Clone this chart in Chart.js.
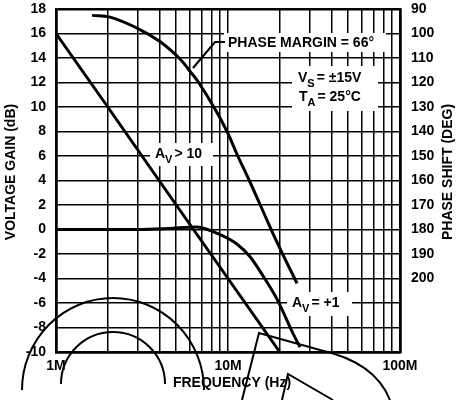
<!DOCTYPE html>
<html>
<head>
<meta charset="utf-8">
<script src="https://cdn.jsdelivr.net/npm/chart.js@4/dist/chart.umd.min.js"></script>
<style>
  body { margin: 0; background: #fff; }
  canvas { display: block; }
</style>
</head>
<body>
<canvas id="chart" width="458" height="400"></canvas>
<script>
// frequencies in MHz
const freqTicks = [1, 2, 3, 4, 5, 6, 7, 8, 9, 10, 20, 30, 40, 50, 60, 70, 80, 90, 100];

// A_V > 10 gain (dB)
const highGainFreq = [1, 2, 5, 10, 20];
const highGainDb = [16, 10, 2, -4, -10];

// A_V = +1 gain (dB)
const unityFreq = [1, 3, 4.5, 6.5, 8.6, 11.3, 13.4, 16, 19.3, 23.9, 26.2];
const unityDb = [0, 0, 0.08, 0.2, -0.3, -1.2, -2.2, -3.8, -5.7, -8.5, -9.6];

// phase shift (deg), right axis
const phaseFreq = [1.62, 2.06, 2.96, 4.02, 5.26, 6.01, 6.69, 8.4, 9.87, 11.4, 13.3, 15.4, 19.5, 25.2];
const phaseDeg = [92.6, 93.3, 97.8, 103.3, 110.4, 115.4, 119.6, 130.8, 140, 150, 160, 170, 186, 202];

const FONT = '"Liberation Sans", Arial, sans-serif';

function toPoints(xs, ys) {
  return xs.map((x, i) => ({ x: x, y: ys[i] }));
}

function subText(ctx, x, y, main, sub, rest) {
  ctx.font = 'bold 14px ' + FONT;
  ctx.fillText(main, x, y);
  x += ctx.measureText(main).width;
  ctx.font = 'bold 11px ' + FONT;
  ctx.fillText(sub, x, y + 5);
  x += ctx.measureText(sub).width;
  ctx.font = 'bold 14px ' + FONT;
  ctx.fillText(rest, x + 2, y);
}

// pin the plot frame: fixed width, no extra room for the end tick labels
function fitSide(width) {
  return scale => {
    scale.width = width;
    scale.paddingTop = 0;
    scale.paddingBottom = 0;
  };
}

const labelsPlugin = {
  id: 'labels',
  beforeDatasetsDraw(chart) {
    const ctx = chart.ctx;
    ctx.save();
    ctx.fillStyle = '#fff';
    ctx.fillRect(224, 33, 162, 19);
    ctx.fillRect(292, 66, 86, 45);
    ctx.fillRect(150, 143, 63, 23);
    ctx.fillRect(287, 292, 65, 24);

    ctx.fillStyle = '#000';
    ctx.textBaseline = 'alphabetic';
    ctx.textAlign = 'left';
    ctx.font = 'bold 14px ' + FONT;
    ctx.fillText('PHASE MARGIN = 66°', 228, 47);
    subText(ctx, 298, 82, 'V', 'S', '= ±15V');
    subText(ctx, 299, 101, 'T', 'A', '= 25°C');
    subText(ctx, 155, 158, 'A', 'V', '> 10');
    subText(ctx, 292, 307, 'A', 'V', '= +1');

    // leader to the phase curve
    ctx.strokeStyle = '#000';
    ctx.lineWidth = 2;
    ctx.beginPath();
    ctx.moveTo(225, 42);
    ctx.lineTo(215, 42);
    ctx.lineTo(193, 68);
    ctx.stroke();
    ctx.restore();
  },
  afterDraw(chart) {
    const ctx = chart.ctx;
    ctx.save();
    ctx.fillStyle = '#000';
    ctx.font = 'bold 14px ' + FONT;
    ctx.textAlign = 'center';
    ctx.textBaseline = 'middle';
    ctx.fillText('FREQUENCY (Hz)', 232, 383);

    ctx.save();
    ctx.translate(11, 172);
    ctx.rotate(-Math.PI / 2);
    ctx.fillText('VOLTAGE GAIN (dB)', 0, 0);
    ctx.restore();

    ctx.save();
    ctx.translate(448, 172);
    ctx.rotate(-Math.PI / 2);
    ctx.fillText('PHASE SHIFT (DEG)', 0, 0);
    ctx.restore();

    // pen strokes over the bottom of the sheet
    ctx.strokeStyle = '#000';
    ctx.lineWidth = 2;
    ctx.beginPath();
    ctx.ellipse(113, 390, 91, 92, 0, Math.PI, 2 * Math.PI);
    ctx.stroke();
    ctx.beginPath();
    ctx.arc(113, 384, 52, Math.PI, 2 * Math.PI);
    ctx.stroke();
    ctx.beginPath();
    ctx.moveTo(242, 400);
    ctx.lineTo(259, 333);
    ctx.lineTo(320, 350);
    ctx.quadraticCurveTo(375, 362, 390, 400);
    ctx.stroke();
    ctx.beginPath();
    ctx.moveTo(282, 400);
    ctx.lineTo(288, 374);
    ctx.lineTo(326, 396);
    ctx.lineTo(333, 400);
    ctx.stroke();
    ctx.restore();
  }
};

const lineStyle = {
  borderColor: '#000',
  borderWidth: 3,
  pointRadius: 0,
  fill: false,
  borderCapStyle: 'butt'
};

new Chart(document.getElementById('chart'), {
  type: 'line',
  data: {
    datasets: [
      Object.assign({ label: 'A_V > 10', data: toPoints(highGainFreq, highGainDb), yAxisID: 'y', tension: 0 }, lineStyle),
      Object.assign({ label: 'A_V = +1', data: toPoints(unityFreq, unityDb), yAxisID: 'y', cubicInterpolationMode: 'monotone' }, lineStyle),
      Object.assign({ label: 'Phase', data: toPoints(phaseFreq, phaseDeg), yAxisID: 'y1', tension: 0.4 }, lineStyle)
    ]
  },
  options: {
    responsive: false,
    animation: false,
    layout: { padding: { top: 9, left: 0, right: 0, bottom: 0 } },
    plugins: {
      legend: { display: false },
      tooltip: { enabled: false }
    },
    scales: {
      x: {
        type: 'logarithmic',
        min: 1,
        max: 100,
        afterBuildTicks: scale => { scale.ticks = freqTicks.map(v => ({ value: v })); },
        afterFit: scale => { scale.height = 48; },
        ticks: {
          autoSkip: false,
          maxRotation: 0,
          padding: 6,
          color: '#000',
          font: { family: FONT, size: 14, weight: 'bold' },
          callback: v => ([1, 10, 100].includes(v) ? v + 'M' : '')
        },
        grid: {
          color: '#000',
          lineWidth: c => (c.tick && (c.tick.value === 1 || c.tick.value === 100) ? 2.5 : 1.5),
          drawTicks: false
        },
        border: { display: true, color: '#000', width: 2.5 }
      },
      y: {
        position: 'left',
        min: -10,
        max: 18,
        afterFit: fitSide(56),
        ticks: {
          stepSize: 2,
          padding: 10,
          color: '#000',
          font: { family: FONT, size: 14, weight: 'bold' }
        },
        grid: {
          color: '#000',
          lineWidth: c => (c.tick && (c.tick.value === 18 || c.tick.value === -10) ? 2.5 : 1.5),
          drawTicks: false
        },
        border: { display: true, color: '#000', width: 2.5 }
      },
      y1: {
        position: 'right',
        min: 90,
        max: 230,
        reverse: true,
        afterFit: fitSide(58),
        ticks: {
          stepSize: 10,
          padding: 11,
          color: '#000',
          font: { family: FONT, size: 14, weight: 'bold' },
          callback: v => (v <= 200 ? v : '')
        },
        grid: { drawOnChartArea: false, drawTicks: false },
        border: { display: true, color: '#000', width: 2.5 }
      }
    }
  },
  plugins: [labelsPlugin]
});
</script>
</body>
</html>
